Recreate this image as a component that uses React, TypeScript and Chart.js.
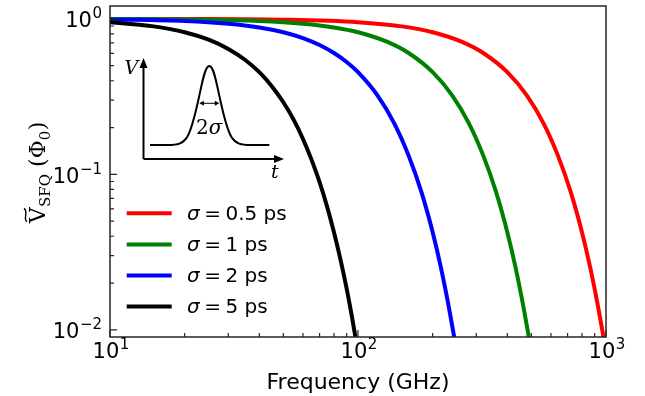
import React, { useEffect, useRef } from "react";
import { Chart, registerables } from "chart.js";

Chart.register(...registerables);

// SFQ pulse spectrum, sigma = 0.5 ps
const freq05 = [10, 20, 50, 100, 150, 200, 260, 320, 400, 480, 560, 640, 720, 800, 860, 920, 980];
const amp05 = [0.9995, 0.998, 0.988, 0.952, 0.895, 0.821, 0.716, 0.603, 0.454, 0.321, 0.213, 0.132, 0.0774, 0.0425, 0.026, 0.0153, 0.00875];
// sigma = 1 ps
const freq1 = [10, 20, 40, 60, 80, 100, 130, 160, 200, 240, 280, 320, 360, 400, 430, 460, 490];
const amp1 = [0.998, 0.992, 0.969, 0.931, 0.881, 0.821, 0.716, 0.603, 0.454, 0.321, 0.213, 0.132, 0.0774, 0.0425, 0.026, 0.0153, 0.00875];
// sigma = 2 ps
const freq2 = [10, 20, 30, 40, 50, 60, 70, 80, 90, 100, 120, 140, 160, 180, 200, 215, 230, 245];
const amp2 = [0.992, 0.969, 0.931, 0.881, 0.821, 0.753, 0.679, 0.603, 0.528, 0.454, 0.321, 0.213, 0.132, 0.0774, 0.0425, 0.026, 0.0153, 0.00875];
// sigma = 5 ps
const freq5 = [10, 15, 20, 25, 30, 35, 40, 45, 50, 55, 60, 65, 70, 75, 80, 85, 90, 95, 100];
const amp5 = [0.952, 0.895, 0.821, 0.735, 0.641, 0.546, 0.454, 0.368, 0.291, 0.225, 0.169, 0.124, 0.0891, 0.0623, 0.0425, 0.0283, 0.0184, 0.0116, 0.0072];

const sigmaLabels = ["0.5", "1", "2", "5"];
const seriesColors = ["#ff0000", "#008000", "#0000ff", "#000000"];
const seriesFreqs = [freq05, freq1, freq2, freq5];
const seriesAmps = [amp05, amp1, amp2, amp5];

const xMajor = [10, 100, 1000];
const xMajorExp = ["1", "2", "3"];
const xMinor = [20, 30, 40, 50, 60, 70, 80, 90, 200, 300, 400, 500, 600, 700, 800, 900];
const yMajor = [0.01, 0.1, 1];
const yMajorExp = ["\u22122", "\u22121", "0"];
const yMinor = [0.02, 0.03, 0.04, 0.05, 0.06, 0.07, 0.08, 0.09, 0.2, 0.3, 0.4, 0.5, 0.6, 0.7, 0.8, 0.9];

const SANS = '"DejaVu Sans"';
const SERIF = '"DejaVu Serif"';

function drawPower(ctx: CanvasRenderingContext2D, exp: string, x: number, baseline: number, align: "right" | "center") {
  const baseFont = `21px ${SANS}`;
  const expFont = `15px ${SANS}`;
  ctx.font = baseFont;
  const wb = ctx.measureText("10").width;
  ctx.font = expFont;
  const we = ctx.measureText(exp).width;
  const total = wb + we + 0.5;
  const x0 = align === "right" ? x - total : x - total / 2;
  ctx.textAlign = "left";
  ctx.textBaseline = "alphabetic";
  ctx.font = baseFont;
  ctx.fillText("10", x0, baseline);
  ctx.font = expFont;
  ctx.fillText(exp, x0 + wb + 0.5, baseline - 9);
}

function arrowHead(ctx: CanvasRenderingContext2D, tx: number, ty: number, dx: number, dy: number, len: number, hw: number) {
  const px = -dy, py = dx;
  ctx.beginPath();
  ctx.moveTo(tx, ty);
  ctx.lineTo(tx - dx * len + px * hw, ty - dy * len + py * hw);
  ctx.lineTo(tx - dx * len - px * hw, ty - dy * len - py * hw);
  ctx.closePath();
  ctx.fill();
}

function drawInset(ctx: CanvasRenderingContext2D, left: number, top: number) {
  const ox = left + 33.5; // inset axes origin
  const oy = top + 153;
  ctx.strokeStyle = "#000";
  ctx.fillStyle = "#000";
  ctx.lineWidth = 2;
  ctx.lineCap = "butt";
  ctx.beginPath();
  ctx.moveTo(ox, oy);
  ctx.lineTo(ox, top + 60);
  ctx.moveTo(ox, oy);
  ctx.lineTo(left + 166, oy);
  ctx.stroke();
  arrowHead(ctx, ox, top + 52, 0, -1, 10, 4);
  arrowHead(ctx, left + 174, oy, 1, 0, 10, 4);

  // pulse sketch
  const cx = left + 99.3;
  const yb = top + 139;
  const h = 79;
  const s = 10.3;
  const P = (u: number, v: number): [number, number] => [cx + u * s, yb - v * h];
  ctx.lineWidth = 2;
  ctx.lineJoin = "round";
  ctx.beginPath();
  ctx.moveTo(left + 40, yb);
  ctx.lineTo(...P(-4, 0));
  ctx.bezierCurveTo(...P(-2.2, 0), ...P(-1.9, 0.061), ...P(-1, 0.607));
  ctx.bezierCurveTo(...P(-0.65, 0.819), ...P(-0.4, 1), ...P(0, 1));
  ctx.bezierCurveTo(...P(0.4, 1), ...P(0.65, 0.819), ...P(1, 0.607));
  ctx.bezierCurveTo(...P(1.9, 0.061), ...P(2.2, 0), ...P(4, 0));
  ctx.lineTo(left + 159.3, yb);
  ctx.stroke();

  // width marker
  const ay = top + 97.3;
  ctx.lineWidth = 1;
  ctx.beginPath();
  ctx.moveTo(cx - 7, ay);
  ctx.lineTo(cx + 7, ay);
  ctx.stroke();
  arrowHead(ctx, cx - 10, ay, -1, 0, 4.5, 2.5);
  arrowHead(ctx, cx + 10, ay, 1, 0, 4.5, 2.5);

  ctx.textBaseline = "alphabetic";
  ctx.textAlign = "left";
  ctx.font = `20px ${SERIF}`;
  const w2 = ctx.measureText("2").width;
  ctx.font = `italic 20px ${SERIF}`;
  const ws = ctx.measureText("\u03c3").width;
  const tx = cx - (w2 + ws) / 2;
  ctx.font = `20px ${SERIF}`;
  ctx.fillText("2", tx, top + 128.3);
  ctx.font = `italic 20px ${SERIF}`;
  ctx.fillText("\u03c3", tx + w2, top + 128.3);

  ctx.font = `italic 19px ${SERIF}`;
  ctx.fillText("V", left + 14.5, top + 67.5);
  ctx.fillText("t", left + 161, top + 172);
}

function drawYTitle(ctx: CanvasRenderingContext2D, bx: number, cy: number) {
  const big = `22px ${SERIF}`;
  const small = `15px ${SERIF}`;
  const parts: { t: string; f: string; dy: number; gap: number }[] = [
    { t: "V", f: big, dy: 0, gap: 0 },
    { t: "SFQ", f: small, dy: 5, gap: 0.5 },
    { t: "(\u03a6", f: big, dy: 0, gap: 7 },
    { t: "0", f: small, dy: 5, gap: 0 },
    { t: ")", f: big, dy: 0, gap: 0.5 },
  ];
  let total = 0;
  const widths = parts.map((p) => {
    ctx.font = p.f;
    const w = ctx.measureText(p.t).width;
    total += w + p.gap;
    return w;
  });
  ctx.save();
  ctx.translate(bx, cy);
  ctx.rotate(-Math.PI / 2);
  ctx.textAlign = "left";
  ctx.textBaseline = "alphabetic";
  ctx.fillStyle = "#000";
  let x = -total / 2;
  const vStart = x;
  parts.forEach((p, i) => {
    x += p.gap;
    ctx.font = p.f;
    ctx.fillText(p.t, x, p.dy);
    x += widths[i];
  });
  // wide tilde over the V
  const vw = widths[0];
  ctx.strokeStyle = "#000";
  ctx.lineWidth = 1.4;
  ctx.beginPath();
  const ty = -19.5;
  ctx.moveTo(vStart + 1.5, ty + 1.5);
  ctx.bezierCurveTo(vStart + vw * 0.3, ty - 3, vStart + vw * 0.7, ty + 3.5, vStart + vw - 1, ty - 1.5);
  ctx.stroke();
  ctx.restore();
}

const decorations = {
  id: "decorations",
  afterDatasetsDraw(chart: any) {
    const ctx: CanvasRenderingContext2D = chart.ctx;
    const { left, right, top, bottom } = chart.chartArea;
    const xs = chart.scales.x;
    const ys = chart.scales.y;
    ctx.save();

    // axes frame
    ctx.strokeStyle = "#262626";
    ctx.lineWidth = 1.5;
    ctx.strokeRect(left, top, right - left, bottom - top);

    // inward ticks
    ctx.lineWidth = 1.2;
    ctx.beginPath();
    xMajor.forEach((v) => {
      const px = xs.getPixelForValue(v);
      ctx.moveTo(px, bottom);
      ctx.lineTo(px, bottom - 7);
    });
    xMinor.forEach((v) => {
      const px = xs.getPixelForValue(v);
      ctx.moveTo(px, bottom);
      ctx.lineTo(px, bottom - 4);
    });
    yMajor.forEach((v) => {
      const py = ys.getPixelForValue(v);
      ctx.moveTo(left, py);
      ctx.lineTo(left + 7, py);
    });
    yMinor.forEach((v) => {
      const py = ys.getPixelForValue(v);
      ctx.moveTo(left, py);
      ctx.lineTo(left + 4, py);
    });
    ctx.stroke();

    // tick labels
    ctx.fillStyle = "#000";
    xMajor.forEach((v, i) => {
      drawPower(ctx, xMajorExp[i], xs.getPixelForValue(v) + 1, bottom + 20.5, "center");
    });
    yMajor.forEach((v, i) => {
      drawPower(ctx, yMajorExp[i], left - 8, ys.getPixelForValue(v) + 8.5, "right");
    });

    // axis titles
    ctx.font = `22px ${SANS}`;
    ctx.textAlign = "center";
    ctx.textBaseline = "alphabetic";
    ctx.fillText("Frequency (GHz)", (left + right) / 2, 388.5);
    drawYTitle(ctx, 45, (top + bottom) / 2 + 1);

    // legend
    const ly0 = top + 207.3;
    const lstep = 31.1;
    chart.data.datasets.forEach((ds: any, i: number) => {
      const y = ly0 + i * lstep;
      ctx.strokeStyle = ds.borderColor;
      ctx.lineWidth = 4;
      ctx.lineCap = "butt";
      ctx.beginPath();
      ctx.moveTo(left + 16.7, y);
      ctx.lineTo(left + 61.7, y);
      ctx.stroke();
      const base = y + 6.7;
      let x = left + 77;
      ctx.fillStyle = "#000";
      ctx.textAlign = "left";
      ctx.font = `italic 20px ${SANS}`;
      ctx.fillText("\u03c3", x, base);
      x += ctx.measureText("\u03c3").width + 4.5;
      ctx.font = `20px ${SANS}`;
      ctx.fillText("=", x, base);
      x += ctx.measureText("=").width + 4.5;
      ctx.fillText(`${sigmaLabels[i]} ps`, x, base);
    });

    drawInset(ctx, left, top);
    ctx.restore();
  },
};

export default function App() {
  const canvasRef = useRef<HTMLCanvasElement>(null);

  useEffect(() => {
    const canvas = canvasRef.current;
    if (!canvas) return;
    const datasets = seriesFreqs.map((fs, i) => ({
      label: `\u03c3 = ${sigmaLabels[i]} ps`,
      data: fs.map((f, j) => ({ x: f, y: seriesAmps[i][j] })),
      borderColor: seriesColors[i],
      backgroundColor: seriesColors[i],
      borderWidth: 4,
      pointRadius: 0,
      cubicInterpolationMode: "monotone" as const,
      fill: false,
      clip: 0,
      order: 3 - i,
    }));
    const chart = new Chart(canvas, {
      type: "line",
      data: { datasets },
      options: {
        animation: false,
        responsive: false,
        devicePixelRatio: 1,
        layout: { padding: { left: 110, right: 39, top: 6, bottom: 59 } },
        plugins: { legend: { display: false }, tooltip: { enabled: false } },
        events: [],
        scales: {
          x: { type: "logarithmic", min: 10, max: 1000, display: false },
          y: { type: "logarithmic", min: 0.009, max: 1.21, display: false },
        },
      },
      plugins: [decorations],
    });
    return () => chart.destroy();
  }, []);

  return (
    <div style={{ position: "fixed", left: 0, top: 0, width: 645, height: 396, background: "#fff" }}>
      <canvas ref={canvasRef} width={645} height={396} style={{ display: "block", width: 645, height: 396 }} />
    </div>
  );
}
